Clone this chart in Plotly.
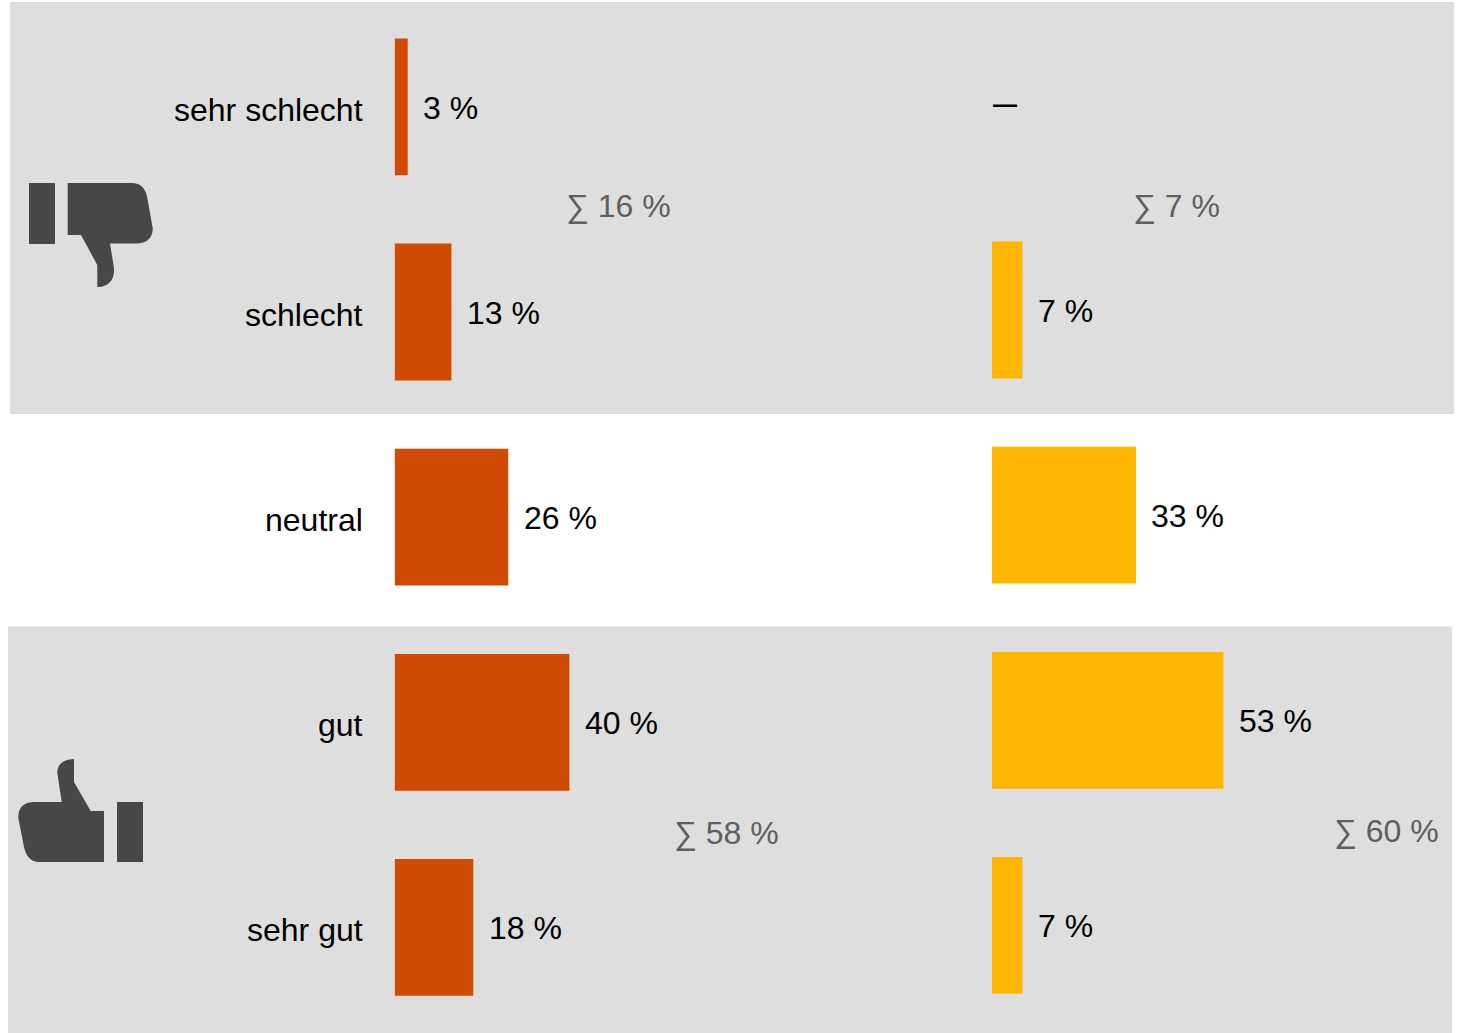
import plotly.graph_objects as go

WIDTH, HEIGHT = 1457, 1033

categories = ["sehr schlecht", "schlecht", "neutral", "gut", "sehr gut"]
left_values = [3, 13, 26, 40, 18]
right_values = [None, 7, 33, 53, 7]
sum_labels = ["∑ 16 %", "∑ 7 %", "∑ 58 %", "∑ 60 %"]
sum_positions_px = [(564, 206), (1131, 206), (672, 833), (1332, 831)]

COLOR_LEFT = "#d04a02"
COLOR_RIGHT = "#ffb600"
COLOR_BAND = "#dedede"
COLOR_ICON = "#474747"
COLOR_SUM = "#5f5f5f"
FONT = "Liberation Sans, Arial, sans-serif"

PX_PER_UNIT = 4.37
LEFT_START, LEFT_END = 394.6, 900
RIGHT_START, RIGHT_END = 991.8, 1457


def px(x):
    return x / WIDTH


def py(y):
    return 1 - y / HEIGHT


def svg_path(commands):
    """Build a paper-referenced SVG path from pixel-based commands."""
    parts = []
    for cmd, *pts in commands:
        coords = " ".join(f"{px(x):.5f},{py(y):.5f}" for x, y in pts)
        parts.append(f"{cmd} {coords}".strip())
    return " ".join(parts)


thumb_down = [
    ("M", (67.7, 183)), ("L", (133, 183)), ("Q", (145, 184), (147.3, 198)),
    ("L", (152.7, 228)), ("Q", (153, 242), (138, 243.5)), ("L", (110, 243.5)),
    ("L", (114, 268)), ("Q", (115, 286), (97.3, 287)), ("L", (97.3, 265)),
    ("L", (81, 235)), ("L", (67.7, 235)), ("Z",),
]
thumb_up = [
    ("M", (104, 811)), ("L", (90.7, 811)), ("L", (74, 782)), ("L", (74, 759)),
    ("Q", (57, 760), (57.3, 773)), ("L", (61.7, 802)), ("L", (33, 802)),
    ("Q", (18, 803), (18.3, 818)), ("L", (24, 847)), ("Q", (27, 861), (38, 862)),
    ("L", (104, 862)), ("Z",),
]


def rect(x0, y0, x1, y1, color):
    return dict(type="rect", xref="paper", yref="paper", x0=px(x0), x1=px(x1),
                y0=py(y1), y1=py(y0), fillcolor=color, line_width=0, layer="below")


def icon(commands):
    return dict(type="path", xref="paper", yref="paper", path=svg_path(commands),
                fillcolor=COLOR_ICON, line_width=0, layer="below")


shapes = [
    rect(10, 2, 1454, 414, COLOR_BAND),
    rect(8, 626.6, 1452, 1033, COLOR_BAND),
    rect(29, 183, 55, 244, COLOR_ICON),
    rect(117, 802, 143, 862, COLOR_ICON),
    icon(thumb_down),
    icon(thumb_up),
]

fig = go.Figure()
fig.add_trace(go.Bar(x=left_values, y=categories, orientation="h", width=0.667,
                     marker=dict(color=COLOR_LEFT, line_width=0),
                     xaxis="x", yaxis="y", hoverinfo="x+y"))
fig.add_trace(go.Bar(x=right_values, y=categories, orientation="h", width=0.667,
                     marker=dict(color=COLOR_RIGHT, line_width=0),
                     xaxis="x2", yaxis="y2", hoverinfo="x+y"))

annotations = []
label_font = dict(family=FONT, size=32, color="#000000")

for cat in categories:
    annotations.append(dict(x=0, y=cat, xref="x", yref="y", text=cat, showarrow=False,
                            xanchor="right", yanchor="middle", xshift=-30, yshift=-3,
                            font=label_font))

for cat, val in zip(categories, left_values):
    annotations.append(dict(x=val, y=cat, xref="x", yref="y", text=f"{val} %", showarrow=False,
                            xanchor="left", yanchor="middle", xshift=13.3, yshift=-1,
                            font=label_font))

for cat, val in zip(categories, right_values):
    if val is None:
        annotations.append(dict(x=0, y=cat, xref="x2", yref="y2", text="—", showarrow=False,
                                xanchor="left", yanchor="middle", xshift=-1, yshift=1.5,
                                font=dict(family=FONT, size=24, color="#000000", weight="bold")))
    else:
        annotations.append(dict(x=val, y=cat, xref="x2", yref="y2", text=f"{val} %",
                                showarrow=False, xanchor="left", yanchor="middle", xshift=13.3,
                                yshift=-1, font=label_font))

for label, (x, y) in zip(sum_labels, sum_positions_px):
    annotations.append(dict(x=px(x), y=py(y), xref="paper", yref="paper", text=label,
                            showarrow=False, xanchor="left", yanchor="middle",
                            font=dict(family=FONT, size=32, color=COLOR_SUM)))

hidden = dict(visible=False, fixedrange=True)
order = dict(type="category", categoryorder="array", categoryarray=categories, range=[4.5, -0.5])

fig.update_layout(
    width=WIDTH,
    height=HEIGHT,
    margin=dict(l=0, r=0, t=0, b=0),
    paper_bgcolor="#ffffff",
    plot_bgcolor="rgba(0,0,0,0)",
    showlegend=False,
    barmode="overlay",
    shapes=shapes,
    annotations=annotations,
    xaxis=dict(domain=[px(LEFT_START), px(LEFT_END)],
               range=[0, (LEFT_END - LEFT_START) / PX_PER_UNIT], anchor="y", **hidden),
    xaxis2=dict(domain=[px(RIGHT_START), px(RIGHT_END)],
                range=[0, (RIGHT_END - RIGHT_START) / PX_PER_UNIT], anchor="y2", **hidden),
    yaxis=dict(domain=[py(1030), py(4.3)], anchor="x", **order, **hidden),
    yaxis2=dict(domain=[py(1028), py(2.3)], anchor="x2", **order, **hidden),
)

fig.write_html("out.html")
